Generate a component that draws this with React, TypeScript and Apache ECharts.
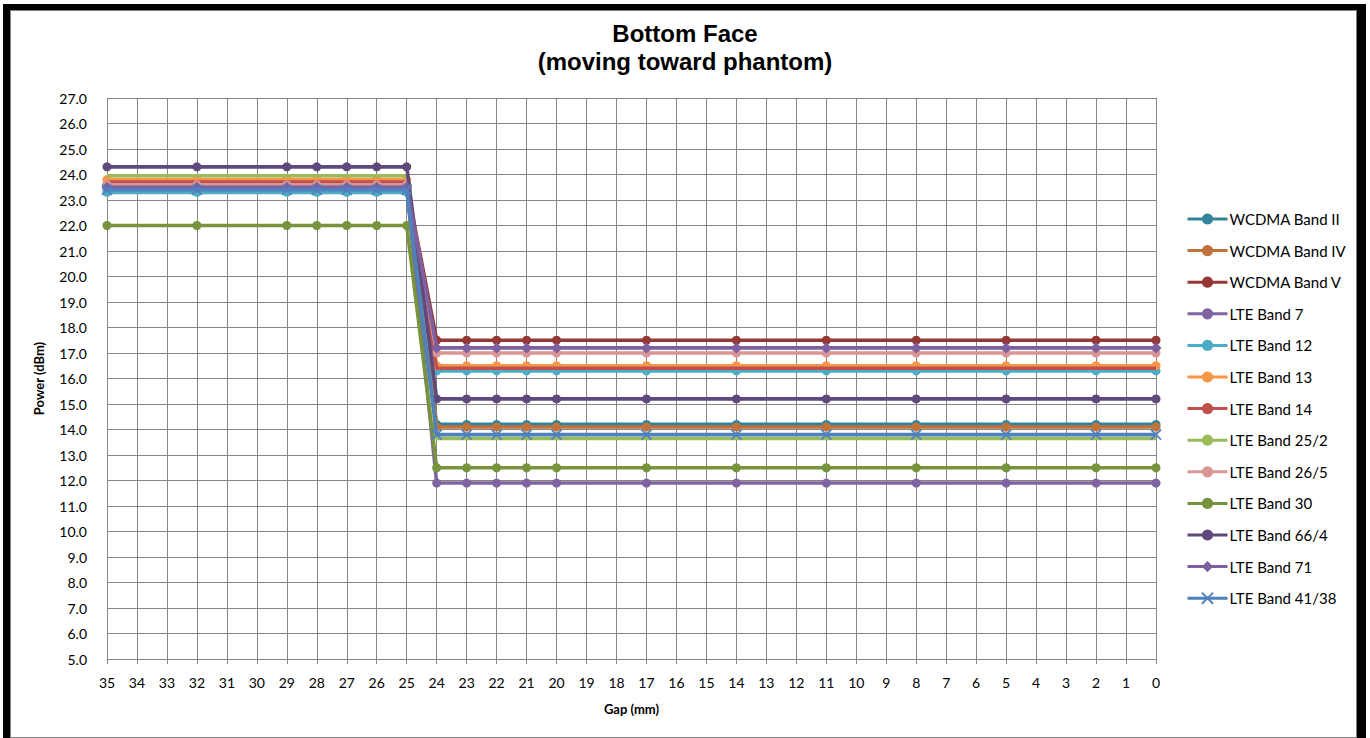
import React, { useEffect, useRef } from "react";
import * as echarts from "echarts";

const gaps = [35, 32, 29, 28, 27, 26, 25, 24, 23, 22, 21, 20, 17, 14, 11, 8, 5, 2, 0];

const seriesNames = [
  "WCDMA Band II",
  "WCDMA Band IV",
  "WCDMA Band V",
  "LTE Band 7",
  "LTE Band 12",
  "LTE Band 13",
  "LTE Band 14",
  "LTE Band 25/2",
  "LTE Band 26/5",
  "LTE Band 30",
  "LTE Band 66/4",
  "LTE Band 71",
  "LTE Band 41/38",
];

const wcdmaBand2 = [23.4, 23.4, 23.4, 23.4, 23.4, 23.4, 23.4, 14.2, 14.2, 14.2, 14.2, 14.2, 14.2, 14.2, 14.2, 14.2, 14.2, 14.2, 14.2];
const wcdmaBand4 = [23.6, 23.6, 23.6, 23.6, 23.6, 23.6, 23.6, 14.1, 14.1, 14.1, 14.1, 14.1, 14.1, 14.1, 14.1, 14.1, 14.1, 14.1, 14.1];
const wcdmaBand5 = [23.6, 23.6, 23.6, 23.6, 23.6, 23.6, 23.6, 17.5, 17.5, 17.5, 17.5, 17.5, 17.5, 17.5, 17.5, 17.5, 17.5, 17.5, 17.5];
const lteBand7 = [23.5, 23.5, 23.5, 23.5, 23.5, 23.5, 23.5, 11.9, 11.9, 11.9, 11.9, 11.9, 11.9, 11.9, 11.9, 11.9, 11.9, 11.9, 11.9];
const lteBand12 = [23.3, 23.3, 23.3, 23.3, 23.3, 23.3, 23.3, 16.3, 16.3, 16.3, 16.3, 16.3, 16.3, 16.3, 16.3, 16.3, 16.3, 16.3, 16.3];
const lteBand13 = [23.8, 23.8, 23.8, 23.8, 23.8, 23.8, 23.8, 16.5, 16.5, 16.5, 16.5, 16.5, 16.5, 16.5, 16.5, 16.5, 16.5, 16.5, 16.5];
const lteBand14 = [23.7, 23.7, 23.7, 23.7, 23.7, 23.7, 23.7, 16.4, 16.4, 16.4, 16.4, 16.4, 16.4, 16.4, 16.4, 16.4, 16.4, 16.4, 16.4];
const lteBand25 = [23.95, 23.95, 23.95, 23.95, 23.95, 23.95, 23.95, 13.65, 13.65, 13.65, 13.65, 13.65, 13.65, 13.65, 13.65, 13.65, 13.65, 13.65, 13.65];
const lteBand26 = [23.6, 23.6, 23.6, 23.6, 23.6, 23.6, 23.6, 17.0, 17.0, 17.0, 17.0, 17.0, 17.0, 17.0, 17.0, 17.0, 17.0, 17.0, 17.0];
const lteBand30 = [22.0, 22.0, 22.0, 22.0, 22.0, 22.0, 22.0, 12.5, 12.5, 12.5, 12.5, 12.5, 12.5, 12.5, 12.5, 12.5, 12.5, 12.5, 12.5];
const lteBand66 = [24.3, 24.3, 24.3, 24.3, 24.3, 24.3, 24.3, 15.2, 15.2, 15.2, 15.2, 15.2, 15.2, 15.2, 15.2, 15.2, 15.2, 15.2, 15.2];
const lteBand71 = [23.5, 23.5, 23.5, 23.5, 23.5, 23.5, 23.5, 17.2, 17.2, 17.2, 17.2, 17.2, 17.2, 17.2, 17.2, 17.2, 17.2, 17.2, 17.2];
const lteBand41 = [23.4, 23.4, 23.4, 23.4, 23.4, 23.4, 23.4, 13.8, 13.8, 13.8, 13.8, 13.8, 13.8, 13.8, 13.8, 13.8, 13.8, 13.8, 13.8];

const seriesValues = [
  wcdmaBand2, wcdmaBand4, wcdmaBand5, lteBand7, lteBand12, lteBand13, lteBand14,
  lteBand25, lteBand26, lteBand30, lteBand66, lteBand71, lteBand41,
];

const seriesColors = [
  "#31849B", "#C0723A", "#953735", "#8064A2", "#4BACC6", "#F79646", "#C0504D",
  "#9BBB59", "#D99694", "#77933C", "#5F497A", "#7D60A0", "#4F81BD",
];

const X_SYMBOL = "path://M0,0L10,10M10,0L0,10";
const seriesSymbols = [
  "circle", "circle", "circle", "circle", "circle", "circle", "none",
  "none", "circle", "circle", "circle", "diamond", X_SYMBOL,
];

const FONT = "Lato, 'Noto Sans', sans-serif";

export default function App() {
  const ref = useRef<HTMLDivElement>(null);

  useEffect(() => {
    if (!ref.current) return;
    const chart = echarts.init(ref.current, null, { renderer: "svg" });

    const series = seriesNames.map((name, i) => {
      const sym = seriesSymbols[i];
      const isX = sym === X_SYMBOL;
      return {
        name,
        type: "line",
        data: gaps.map((g, j) => [g, seriesValues[i][j]]),
        symbol: sym,
        symbolSize: isX ? 10 : sym === "diamond" ? 11 : 9,
        showSymbol: sym !== "none",
        lineStyle: { color: seriesColors[i], width: 3.6 },
        itemStyle: isX
          ? { color: seriesColors[i], borderColor: seriesColors[i], borderWidth: 1.8 }
          : { color: seriesColors[i], borderWidth: 0 },
        emphasis: { disabled: true },
        z: 2 + i,
      };
    });

    chart.setOption({
      animation: false,
      backgroundColor: "transparent",
      title: {
        text: "Bottom Face\n(moving toward phantom)",
        left: "center",
        top: 14,
        textStyle: {
          fontFamily: "'Liberation Sans', Arial, sans-serif",
          fontWeight: "bold",
          fontSize: 24,
          lineHeight: 28,
          color: "#000",
        },
      },
      legend: {
        orient: "vertical",
        left: 1181,
        top: 206,
        itemWidth: 40,
        itemHeight: 14,
        itemGap: 15.6,
        data: seriesNames,
        lineStyle: { width: 3 },
        textStyle: { fontFamily: FONT, fontSize: 15, lineHeight: 16, color: "#000", padding: [0, 0, 0, -3] },
        selectedMode: false,
      },
      grid: { left: 107, right: 214, top: 98, bottom: 79, containLabel: false },
      xAxis: {
        type: "value",
        inverse: true,
        min: 0,
        max: 35,
        interval: 1,
        name: "Gap (mm)",
        nameLocation: "middle",
        nameGap: 43,
        nameTextStyle: { fontFamily: FONT, fontWeight: "bold", fontSize: 13, color: "#000" },
        axisLine: { show: true, lineStyle: { color: "#868686", width: 1 } },
        axisTick: { show: true, length: 5, lineStyle: { color: "#868686" } },
        axisLabel: { fontFamily: FONT, fontSize: 14, color: "#000", margin: 16 },
        splitLine: { show: true, lineStyle: { color: "#868686", width: 1 } },
      },
      yAxis: {
        type: "value",
        min: 5,
        max: 27,
        interval: 1,
        name: "Power (dBm)",
        nameLocation: "middle",
        nameGap: 62,
        nameTextStyle: { fontFamily: FONT, fontWeight: "bold", fontSize: 13, color: "#000" },
        axisLine: { show: true, lineStyle: { color: "#868686", width: 1 } },
        axisTick: { show: true, length: 7, lineStyle: { color: "#868686" } },
        axisLabel: {
          fontFamily: FONT,
          fontSize: 14,
          color: "#000",
          margin: 20,
          formatter: (v: number) => v.toFixed(1),
        },
        splitLine: { show: true, lineStyle: { color: "#868686", width: 1 } },
      },
      series,
    });

    return () => chart.dispose();
  }, []);

  return (
    <div style={{ position: "absolute", left: 0, top: 0, width: 1370, height: 738, background: "#fff", overflow: "hidden" }}>
      <div
        style={{
          position: "absolute",
          left: 3,
          top: 4,
          width: 1363,
          height: 740,
          boxSizing: "border-box",
          borderStyle: "solid",
          borderColor: "#000",
          borderWidth: "6px 9px 6px 7px",
          boxShadow: "inset 0 0 0 1px #7f7f7f",
        }}
      />
      <div ref={ref} style={{ position: "absolute", left: 0, top: 0, width: 1370, height: 738 }} />
    </div>
  );
}
